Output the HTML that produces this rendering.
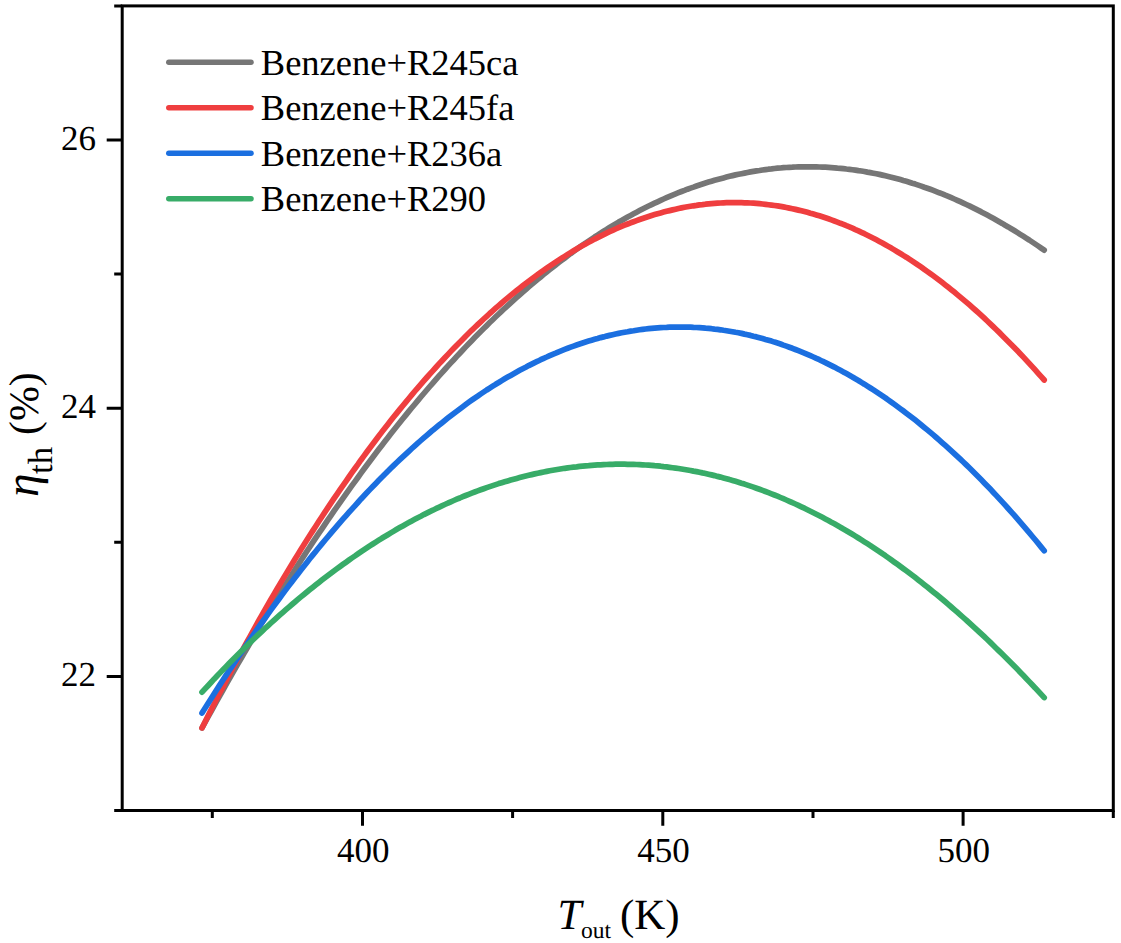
<!DOCTYPE html>
<html><head><meta charset="utf-8"><title>Thermal efficiency vs outlet temperature</title>
<style>
html,body{margin:0;padding:0;background:#fff;}
svg{display:block;}
text{font-family:"Liberation Serif","Times New Roman",serif;fill:#000;text-rendering:geometricPrecision;}
</style></head><body>
<svg width="1121" height="943" viewBox="0 0 1121 943">
<rect width="1121" height="943" fill="#fff"/>
<g font-size="35"><text x="96" y="686.4" text-anchor="end">22</text><text x="96" y="418.2" text-anchor="end">24</text><text x="96" y="150.0" text-anchor="end">26</text><text x="363.2" y="862.3" text-anchor="middle">400</text><text x="663.5" y="862.3" text-anchor="middle">450</text><text x="963.8" y="862.3" text-anchor="middle">500</text></g>
<path d="M202.0,728.0 L205.0,722.5 L208.0,717.0 L211.0,711.6 L214.0,706.1 L217.0,700.7 L220.0,695.3 L223.0,690.0 L226.0,684.7 L229.0,679.4 L232.0,674.1 L235.0,668.9 L238.0,663.7 L241.0,658.5 L244.0,653.3 L247.0,648.2 L250.0,643.1 L253.0,638.0 L255.9,633.0 L258.9,627.9 L261.9,622.9 L264.9,618.0 L267.9,613.0 L270.9,608.1 L273.9,603.2 L276.9,598.4 L279.9,593.5 L282.9,588.7 L285.9,584.0 L288.9,579.2 L291.9,574.5 L294.9,569.8 L297.9,565.1 L300.9,560.5 L303.9,555.9 L306.9,551.3 L309.9,546.7 L312.9,542.2 L315.9,537.7 L318.9,533.2 L321.9,528.8 L324.9,524.3 L327.9,519.9 L330.9,515.6 L333.9,511.2 L336.9,506.9 L339.9,502.6 L342.9,498.4 L345.9,494.1 L348.9,489.9 L351.9,485.7 L354.9,481.6 L357.9,477.5 L360.8,473.4 L363.8,469.3 L366.8,465.2 L369.8,461.2 L372.8,457.2 L375.8,453.3 L378.8,449.3 L381.8,445.4 L384.8,441.5 L387.8,437.7 L390.8,433.8 L393.8,430.0 L396.8,426.3 L399.8,422.5 L402.8,418.8 L405.8,415.1 L408.8,411.4 L411.8,407.8 L414.8,404.2 L417.8,400.6 L420.8,397.0 L423.8,393.5 L426.8,390.0 L429.8,386.5 L432.8,383.1 L435.8,379.6 L438.8,376.2 L441.8,372.9 L444.8,369.5 L447.8,366.2 L450.8,362.9 L453.8,359.7 L456.8,356.4 L459.8,353.2 L462.8,350.0 L465.7,346.9 L468.7,343.8 L471.7,340.7 L474.7,337.6 L477.7,334.5 L480.7,331.5 L483.7,328.5 L486.7,325.6 L489.7,322.6 L492.7,319.7 L495.7,316.8 L498.7,314.0 L501.7,311.2 L504.7,308.3 L507.7,305.6 L510.7,302.8 L513.7,300.1 L516.7,297.4 L519.7,294.8 L522.7,292.1 L525.7,289.5 L528.7,286.9 L531.7,284.4 L534.7,281.8 L537.7,279.3 L540.7,276.9 L543.7,274.4 L546.7,272.0 L549.7,269.6 L552.7,267.2 L555.7,264.9 L558.7,262.6 L561.7,260.3 L564.7,258.1 L567.7,255.8 L570.6,253.6 L573.6,251.5 L576.6,249.3 L579.6,247.2 L582.6,245.1 L585.6,243.0 L588.6,241.0 L591.6,239.0 L594.6,237.0 L597.6,235.1 L600.6,233.1 L603.6,231.2 L606.6,229.4 L609.6,227.5 L612.6,225.7 L615.6,223.9 L618.6,222.1 L621.6,220.4 L624.6,218.7 L627.6,217.0 L630.6,215.4 L633.6,213.8 L636.6,212.2 L639.6,210.6 L642.6,209.0 L645.6,207.5 L648.6,206.0 L651.6,204.6 L654.6,203.2 L657.6,201.8 L660.6,200.4 L663.6,199.0 L666.6,197.7 L669.6,196.4 L672.6,195.1 L675.6,193.9 L678.5,192.7 L681.5,191.5 L684.5,190.4 L687.5,189.2 L690.5,188.1 L693.5,187.1 L696.5,186.0 L699.5,185.0 L702.5,184.0 L705.5,183.0 L708.5,182.1 L711.5,181.2 L714.5,180.3 L717.5,179.5 L720.5,178.7 L723.5,177.9 L726.5,177.1 L729.5,176.3 L732.5,175.6 L735.5,174.9 L738.5,174.3 L741.5,173.7 L744.5,173.1 L747.5,172.5 L750.5,171.9 L753.5,171.4 L756.5,170.9 L759.5,170.5 L762.5,170.0 L765.5,169.6 L768.5,169.2 L771.5,168.9 L774.5,168.5 L777.5,168.2 L780.5,168.0 L783.4,167.7 L786.4,167.5 L789.4,167.3 L792.4,167.2 L795.4,167.0 L798.4,166.9 L801.4,166.9 L804.4,166.8 L807.4,166.8 L810.4,166.8 L813.4,166.8 L816.4,166.9 L819.4,167.0 L822.4,167.1 L825.4,167.2 L828.4,167.4 L831.4,167.6 L834.4,167.8 L837.4,168.1 L840.4,168.3 L843.4,168.6 L846.4,169.0 L849.4,169.3 L852.4,169.7 L855.4,170.1 L858.4,170.6 L861.4,171.0 L864.4,171.5 L867.4,172.1 L870.4,172.6 L873.4,173.2 L876.4,173.8 L879.4,174.4 L882.4,175.1 L885.4,175.8 L888.3,176.5 L891.3,177.2 L894.3,178.0 L897.3,178.8 L900.3,179.6 L903.3,180.5 L906.3,181.3 L909.3,182.2 L912.3,183.2 L915.3,184.1 L918.3,185.1 L921.3,186.1 L924.3,187.2 L927.3,188.2 L930.3,189.3 L933.3,190.4 L936.3,191.6 L939.3,192.8 L942.3,193.9 L945.3,195.2 L948.3,196.4 L951.3,197.7 L954.3,199.0 L957.3,200.3 L960.3,201.7 L963.3,203.1 L966.3,204.5 L969.3,205.9 L972.3,207.4 L975.3,208.9 L978.3,210.4 L981.3,211.9 L984.3,213.5 L987.3,215.1 L990.3,216.7 L993.2,218.3 L996.2,220.0 L999.2,221.7 L1002.2,223.4 L1005.2,225.2 L1008.2,226.9 L1011.2,228.7 L1014.2,230.5 L1017.2,232.4 L1020.2,234.3 L1023.2,236.2 L1026.2,238.1 L1029.2,240.0 L1032.2,242.0 L1035.2,244.0 L1038.2,246.0 L1041.2,248.1 L1044.2,250.2" stroke="#767676" stroke-width="5.7" stroke-linecap="round" stroke-linejoin="round" fill="none"/><path d="M202.0,727.9 L205.0,721.9 L208.0,716.0 L211.0,710.1 L214.0,704.2 L217.0,698.3 L220.0,692.5 L223.0,686.8 L226.0,681.0 L229.0,675.4 L232.0,669.7 L235.0,664.1 L238.0,658.5 L241.0,653.0 L244.0,647.4 L247.0,642.0 L250.0,636.5 L253.0,631.1 L255.9,625.8 L258.9,620.4 L261.9,615.2 L264.9,609.9 L267.9,604.7 L270.9,599.5 L273.9,594.3 L276.9,589.2 L279.9,584.2 L282.9,579.1 L285.9,574.1 L288.9,569.1 L291.9,564.2 L294.9,559.3 L297.9,554.4 L300.9,549.6 L303.9,544.8 L306.9,540.0 L309.9,535.3 L312.9,530.6 L315.9,526.0 L318.9,521.3 L321.9,516.7 L324.9,512.2 L327.9,507.7 L330.9,503.2 L333.9,498.7 L336.9,494.3 L339.9,489.9 L342.9,485.6 L345.9,481.3 L348.9,477.0 L351.9,472.7 L354.9,468.5 L357.9,464.4 L360.8,460.2 L363.8,456.1 L366.8,452.0 L369.8,448.0 L372.8,444.0 L375.8,440.0 L378.8,436.1 L381.8,432.1 L384.8,428.3 L387.8,424.4 L390.8,420.6 L393.8,416.8 L396.8,413.1 L399.8,409.4 L402.8,405.7 L405.8,402.1 L408.8,398.5 L411.8,394.9 L414.8,391.3 L417.8,387.8 L420.8,384.4 L423.8,380.9 L426.8,377.5 L429.8,374.1 L432.8,370.8 L435.8,367.5 L438.8,364.2 L441.8,361.0 L444.8,357.8 L447.8,354.6 L450.8,351.4 L453.8,348.3 L456.8,345.2 L459.8,342.2 L462.8,339.2 L465.7,336.2 L468.7,333.3 L471.7,330.3 L474.7,327.5 L477.7,324.6 L480.7,321.8 L483.7,319.0 L486.7,316.3 L489.7,313.5 L492.7,310.9 L495.7,308.2 L498.7,305.6 L501.7,303.0 L504.7,300.4 L507.7,297.9 L510.7,295.4 L513.7,293.0 L516.7,290.6 L519.7,288.2 L522.7,285.8 L525.7,283.5 L528.7,281.2 L531.7,278.9 L534.7,276.7 L537.7,274.5 L540.7,272.4 L543.7,270.2 L546.7,268.1 L549.7,266.1 L552.7,264.1 L555.7,262.1 L558.7,260.1 L561.7,258.2 L564.7,256.3 L567.7,254.4 L570.6,252.6 L573.6,250.8 L576.6,249.0 L579.6,247.3 L582.6,245.6 L585.6,243.9 L588.6,242.3 L591.6,240.7 L594.6,239.1 L597.6,237.6 L600.6,236.1 L603.6,234.6 L606.6,233.1 L609.6,231.7 L612.6,230.4 L615.6,229.0 L618.6,227.7 L621.6,226.4 L624.6,225.2 L627.6,224.0 L630.6,222.8 L633.6,221.7 L636.6,220.6 L639.6,219.5 L642.6,218.5 L645.6,217.5 L648.6,216.5 L651.6,215.5 L654.6,214.6 L657.6,213.7 L660.6,212.9 L663.6,212.1 L666.6,211.3 L669.6,210.6 L672.6,209.9 L675.6,209.2 L678.5,208.5 L681.5,207.9 L684.5,207.3 L687.5,206.8 L690.5,206.3 L693.5,205.8 L696.5,205.4 L699.5,204.9 L702.5,204.6 L705.5,204.2 L708.5,203.9 L711.5,203.6 L714.5,203.4 L717.5,203.2 L720.5,203.0 L723.5,202.8 L726.5,202.7 L729.5,202.7 L732.5,202.6 L735.5,202.6 L738.5,202.6 L741.5,202.7 L744.5,202.8 L747.5,202.9 L750.5,203.0 L753.5,203.2 L756.5,203.4 L759.5,203.7 L762.5,204.0 L765.5,204.3 L768.5,204.7 L771.5,205.1 L774.5,205.5 L777.5,205.9 L780.5,206.4 L783.4,206.9 L786.4,207.5 L789.4,208.1 L792.4,208.7 L795.4,209.4 L798.4,210.1 L801.4,210.8 L804.4,211.5 L807.4,212.3 L810.4,213.2 L813.4,214.0 L816.4,214.9 L819.4,215.8 L822.4,216.8 L825.4,217.8 L828.4,218.8 L831.4,219.9 L834.4,221.0 L837.4,222.1 L840.4,223.3 L843.4,224.4 L846.4,225.7 L849.4,226.9 L852.4,228.2 L855.4,229.6 L858.4,230.9 L861.4,232.3 L864.4,233.7 L867.4,235.2 L870.4,236.7 L873.4,238.2 L876.4,239.8 L879.4,241.4 L882.4,243.0 L885.4,244.7 L888.3,246.4 L891.3,248.1 L894.3,249.9 L897.3,251.7 L900.3,253.5 L903.3,255.4 L906.3,257.2 L909.3,259.2 L912.3,261.1 L915.3,263.1 L918.3,265.2 L921.3,267.2 L924.3,269.3 L927.3,271.5 L930.3,273.6 L933.3,275.8 L936.3,278.0 L939.3,280.3 L942.3,282.6 L945.3,284.9 L948.3,287.3 L951.3,289.7 L954.3,292.1 L957.3,294.6 L960.3,297.1 L963.3,299.6 L966.3,302.1 L969.3,304.7 L972.3,307.4 L975.3,310.0 L978.3,312.7 L981.3,315.4 L984.3,318.2 L987.3,321.0 L990.3,323.8 L993.2,326.6 L996.2,329.5 L999.2,332.4 L1002.2,335.4 L1005.2,338.4 L1008.2,341.4 L1011.2,344.4 L1014.2,347.5 L1017.2,350.6 L1020.2,353.7 L1023.2,356.9 L1026.2,360.1 L1029.2,363.4 L1032.2,366.6 L1035.2,369.9 L1038.2,373.3 L1041.2,376.6 L1044.2,380.0" stroke="#EF3E3F" stroke-width="5.7" stroke-linecap="round" stroke-linejoin="round" fill="none"/><path d="M202.0,713.0 L205.0,708.2 L208.0,703.4 L211.0,698.7 L214.0,694.0 L217.0,689.3 L220.0,684.6 L223.0,680.0 L226.0,675.4 L229.0,670.8 L232.0,666.3 L235.0,661.8 L238.0,657.3 L241.0,652.8 L244.0,648.4 L247.0,644.0 L250.0,639.7 L253.0,635.3 L255.9,631.0 L258.9,626.7 L261.9,622.5 L264.9,618.3 L267.9,614.1 L270.9,609.9 L273.9,605.8 L276.9,601.7 L279.9,597.7 L282.9,593.6 L285.9,589.6 L288.9,585.6 L291.9,581.7 L294.9,577.8 L297.9,573.9 L300.9,570.0 L303.9,566.2 L306.9,562.4 L309.9,558.6 L312.9,554.9 L315.9,551.2 L318.9,547.5 L321.9,543.9 L324.9,540.3 L327.9,536.7 L330.9,533.1 L333.9,529.6 L336.9,526.1 L339.9,522.6 L342.9,519.2 L345.9,515.8 L348.9,512.4 L351.9,509.1 L354.9,505.8 L357.9,502.5 L360.8,499.2 L363.8,496.0 L366.8,492.8 L369.8,489.6 L372.8,486.5 L375.8,483.4 L378.8,480.3 L381.8,477.3 L384.8,474.3 L387.8,471.3 L390.8,468.3 L393.8,465.4 L396.8,462.5 L399.8,459.7 L402.8,456.9 L405.8,454.1 L408.8,451.3 L411.8,448.5 L414.8,445.8 L417.8,443.2 L420.8,440.5 L423.8,437.9 L426.8,435.3 L429.8,432.8 L432.8,430.2 L435.8,427.8 L438.8,425.3 L441.8,422.9 L444.8,420.5 L447.8,418.1 L450.8,415.7 L453.8,413.4 L456.8,411.2 L459.8,408.9 L462.8,406.7 L465.7,404.5 L468.7,402.3 L471.7,400.2 L474.7,398.1 L477.7,396.1 L480.7,394.0 L483.7,392.0 L486.7,390.0 L489.7,388.1 L492.7,386.2 L495.7,384.3 L498.7,382.5 L501.7,380.6 L504.7,378.8 L507.7,377.1 L510.7,375.4 L513.7,373.7 L516.7,372.0 L519.7,370.3 L522.7,368.7 L525.7,367.2 L528.7,365.6 L531.7,364.1 L534.7,362.6 L537.7,361.2 L540.7,359.7 L543.7,358.3 L546.7,357.0 L549.7,355.6 L552.7,354.3 L555.7,353.1 L558.7,351.8 L561.7,350.6 L564.7,349.4 L567.7,348.3 L570.6,347.2 L573.6,346.1 L576.6,345.0 L579.6,344.0 L582.6,343.0 L585.6,342.0 L588.6,341.1 L591.6,340.2 L594.6,339.3 L597.6,338.5 L600.6,337.6 L603.6,336.9 L606.6,336.1 L609.6,335.4 L612.6,334.7 L615.6,334.0 L618.6,333.4 L621.6,332.8 L624.6,332.2 L627.6,331.7 L630.6,331.1 L633.6,330.7 L636.6,330.2 L639.6,329.8 L642.6,329.4 L645.6,329.0 L648.6,328.7 L651.6,328.4 L654.6,328.1 L657.6,327.9 L660.6,327.7 L663.6,327.5 L666.6,327.4 L669.6,327.2 L672.6,327.1 L675.6,327.1 L678.5,327.1 L681.5,327.1 L684.5,327.1 L687.5,327.2 L690.5,327.2 L693.5,327.4 L696.5,327.5 L699.5,327.7 L702.5,327.9 L705.5,328.2 L708.5,328.4 L711.5,328.7 L714.5,329.1 L717.5,329.4 L720.5,329.8 L723.5,330.3 L726.5,330.7 L729.5,331.2 L732.5,331.7 L735.5,332.3 L738.5,332.8 L741.5,333.4 L744.5,334.1 L747.5,334.7 L750.5,335.4 L753.5,336.2 L756.5,336.9 L759.5,337.7 L762.5,338.5 L765.5,339.4 L768.5,340.2 L771.5,341.1 L774.5,342.1 L777.5,343.0 L780.5,344.0 L783.4,345.1 L786.4,346.1 L789.4,347.2 L792.4,348.3 L795.4,349.5 L798.4,350.7 L801.4,351.9 L804.4,353.1 L807.4,354.4 L810.4,355.7 L813.4,357.0 L816.4,358.4 L819.4,359.7 L822.4,361.2 L825.4,362.6 L828.4,364.1 L831.4,365.6 L834.4,367.1 L837.4,368.7 L840.4,370.3 L843.4,371.9 L846.4,373.6 L849.4,375.3 L852.4,377.0 L855.4,378.8 L858.4,380.5 L861.4,382.4 L864.4,384.2 L867.4,386.1 L870.4,388.0 L873.4,389.9 L876.4,391.9 L879.4,393.9 L882.4,395.9 L885.4,397.9 L888.3,400.0 L891.3,402.1 L894.3,404.3 L897.3,406.5 L900.3,408.7 L903.3,410.9 L906.3,413.2 L909.3,415.5 L912.3,417.8 L915.3,420.1 L918.3,422.5 L921.3,425.0 L924.3,427.4 L927.3,429.9 L930.3,432.4 L933.3,434.9 L936.3,437.5 L939.3,440.1 L942.3,442.8 L945.3,445.4 L948.3,448.1 L951.3,450.8 L954.3,453.6 L957.3,456.4 L960.3,459.2 L963.3,462.0 L966.3,464.9 L969.3,467.8 L972.3,470.8 L975.3,473.8 L978.3,476.8 L981.3,479.8 L984.3,482.9 L987.3,486.0 L990.3,489.1 L993.2,492.2 L996.2,495.4 L999.2,498.7 L1002.2,501.9 L1005.2,505.2 L1008.2,508.5 L1011.2,511.9 L1014.2,515.2 L1017.2,518.7 L1020.2,522.1 L1023.2,525.6 L1026.2,529.1 L1029.2,532.6 L1032.2,536.2 L1035.2,539.8 L1038.2,543.4 L1041.2,547.1 L1044.2,550.8" stroke="#1B6FE0" stroke-width="5.7" stroke-linecap="round" stroke-linejoin="round" fill="none"/><path d="M202.0,692.2 L205.0,688.9 L208.0,685.7 L211.0,682.5 L214.0,679.2 L217.0,676.1 L220.0,672.9 L223.0,669.8 L226.0,666.7 L229.0,663.6 L232.0,660.5 L235.0,657.5 L238.0,654.5 L241.0,651.5 L244.0,648.6 L247.0,645.6 L250.0,642.7 L253.0,639.8 L255.9,637.0 L258.9,634.1 L261.9,631.3 L264.9,628.5 L267.9,625.8 L270.9,623.0 L273.9,620.3 L276.9,617.6 L279.9,614.9 L282.9,612.3 L285.9,609.7 L288.9,607.1 L291.9,604.5 L294.9,602.0 L297.9,599.4 L300.9,596.9 L303.9,594.5 L306.9,592.0 L309.9,589.6 L312.9,587.2 L315.9,584.8 L318.9,582.4 L321.9,580.1 L324.9,577.8 L327.9,575.5 L330.9,573.2 L333.9,571.0 L336.9,568.8 L339.9,566.6 L342.9,564.4 L345.9,562.3 L348.9,560.1 L351.9,558.0 L354.9,556.0 L357.9,553.9 L360.8,551.9 L363.8,549.9 L366.8,547.9 L369.8,545.9 L372.8,544.0 L375.8,542.1 L378.8,540.2 L381.8,538.3 L384.8,536.5 L387.8,534.7 L390.8,532.9 L393.8,531.1 L396.8,529.3 L399.8,527.6 L402.8,525.9 L405.8,524.2 L408.8,522.6 L411.8,520.9 L414.8,519.3 L417.8,517.7 L420.8,516.2 L423.8,514.6 L426.8,513.1 L429.8,511.6 L432.8,510.2 L435.8,508.7 L438.8,507.3 L441.8,505.9 L444.8,504.5 L447.8,503.2 L450.8,501.8 L453.8,500.5 L456.8,499.2 L459.8,498.0 L462.8,496.7 L465.7,495.5 L468.7,494.3 L471.7,493.1 L474.7,492.0 L477.7,490.9 L480.7,489.8 L483.7,488.7 L486.7,487.6 L489.7,486.6 L492.7,485.6 L495.7,484.6 L498.7,483.6 L501.7,482.7 L504.7,481.8 L507.7,480.9 L510.7,480.0 L513.7,479.2 L516.7,478.4 L519.7,477.6 L522.7,476.8 L525.7,476.0 L528.7,475.3 L531.7,474.6 L534.7,473.9 L537.7,473.2 L540.7,472.6 L543.7,472.0 L546.7,471.4 L549.7,470.8 L552.7,470.3 L555.7,469.8 L558.7,469.3 L561.7,468.8 L564.7,468.3 L567.7,467.9 L570.6,467.5 L573.6,467.1 L576.6,466.8 L579.6,466.4 L582.6,466.1 L585.6,465.8 L588.6,465.6 L591.6,465.3 L594.6,465.1 L597.6,464.9 L600.6,464.8 L603.6,464.6 L606.6,464.5 L609.6,464.4 L612.6,464.3 L615.6,464.2 L618.6,464.2 L621.6,464.2 L624.6,464.2 L627.6,464.3 L630.6,464.3 L633.6,464.4 L636.6,464.5 L639.6,464.6 L642.6,464.8 L645.6,465.0 L648.6,465.2 L651.6,465.4 L654.6,465.7 L657.6,465.9 L660.6,466.2 L663.6,466.6 L666.6,466.9 L669.6,467.3 L672.6,467.7 L675.6,468.1 L678.5,468.5 L681.5,469.0 L684.5,469.5 L687.5,470.0 L690.5,470.5 L693.5,471.1 L696.5,471.6 L699.5,472.2 L702.5,472.9 L705.5,473.5 L708.5,474.2 L711.5,474.9 L714.5,475.6 L717.5,476.4 L720.5,477.1 L723.5,477.9 L726.5,478.7 L729.5,479.6 L732.5,480.4 L735.5,481.3 L738.5,482.2 L741.5,483.2 L744.5,484.1 L747.5,485.1 L750.5,486.1 L753.5,487.1 L756.5,488.2 L759.5,489.3 L762.5,490.4 L765.5,491.5 L768.5,492.6 L771.5,493.8 L774.5,495.0 L777.5,496.2 L780.5,497.5 L783.4,498.7 L786.4,500.0 L789.4,501.3 L792.4,502.7 L795.4,504.0 L798.4,505.4 L801.4,506.8 L804.4,508.2 L807.4,509.7 L810.4,511.2 L813.4,512.7 L816.4,514.2 L819.4,515.7 L822.4,517.3 L825.4,518.9 L828.4,520.5 L831.4,522.2 L834.4,523.8 L837.4,525.5 L840.4,527.2 L843.4,529.0 L846.4,530.7 L849.4,532.5 L852.4,534.3 L855.4,536.1 L858.4,538.0 L861.4,539.9 L864.4,541.8 L867.4,543.7 L870.4,545.6 L873.4,547.6 L876.4,549.6 L879.4,551.6 L882.4,553.7 L885.4,555.7 L888.3,557.8 L891.3,559.9 L894.3,562.1 L897.3,564.2 L900.3,566.4 L903.3,568.6 L906.3,570.8 L909.3,573.1 L912.3,575.3 L915.3,577.6 L918.3,580.0 L921.3,582.3 L924.3,584.7 L927.3,587.0 L930.3,589.5 L933.3,591.9 L936.3,594.3 L939.3,596.8 L942.3,599.3 L945.3,601.8 L948.3,604.4 L951.3,607.0 L954.3,609.6 L957.3,612.2 L960.3,614.8 L963.3,617.5 L966.3,620.1 L969.3,622.9 L972.3,625.6 L975.3,628.3 L978.3,631.1 L981.3,633.9 L984.3,636.7 L987.3,639.5 L990.3,642.4 L993.2,645.3 L996.2,648.2 L999.2,651.1 L1002.2,654.1 L1005.2,657.0 L1008.2,660.0 L1011.2,663.0 L1014.2,666.1 L1017.2,669.1 L1020.2,672.2 L1023.2,675.3 L1026.2,678.4 L1029.2,681.6 L1032.2,684.8 L1035.2,687.9 L1038.2,691.2 L1041.2,694.4 L1044.2,697.6" stroke="#38AC68" stroke-width="5.7" stroke-linecap="round" stroke-linejoin="round" fill="none"/>
<path d="M106.7,676.4H122.2M106.7,408.2H122.2M106.7,140.0H122.2M114.2,810.5H122.2M114.2,542.3H122.2M114.2,274.1H122.2M114.2,5.9H122.2M362.5,810.5V825.8M662.8,810.5V825.8M963.1,810.5V825.8M212.3,810.5V818.0M512.6,810.5V818.0M813.0,810.5V818.0M1113.3,810.5V818.0" stroke="#000" stroke-width="3" fill="none"/>
<rect x="122.2" y="5.9" width="991.1" height="804.6" stroke="#000" stroke-width="3" fill="none"/>
<g font-size="36.5"><path d="M168.8,62.2H251" stroke="#767676" stroke-width="5.5" stroke-linecap="round" fill="none"/><text x="260.8" y="74.9">Benzene+R245ca</text><path d="M168.8,107.7H251" stroke="#EF3E3F" stroke-width="5.5" stroke-linecap="round" fill="none"/><text x="260.8" y="120.4">Benzene+R245fa</text><path d="M168.8,153.2H251" stroke="#1B6FE0" stroke-width="5.5" stroke-linecap="round" fill="none"/><text x="260.8" y="165.9">Benzene+R236a</text><path d="M168.8,198.7H251" stroke="#38AC68" stroke-width="5.5" stroke-linecap="round" fill="none"/><text x="260.8" y="211.4">Benzene+R290</text></g>
<text x="557.6" y="929" font-size="43" font-style="italic">T</text>
<text x="581" y="938" font-size="23.5">out</text>
<text x="620" y="929" font-size="43">(K)</text>
<g transform="rotate(-90)">
<text x="-497" y="37.8" font-size="47.5" font-style="italic">η</text>
<text x="-474" y="52" font-size="35">th</text>
<text x="-435" y="38.3" font-size="41.8">(%)</text>
</g>
</svg>
</body></html>
